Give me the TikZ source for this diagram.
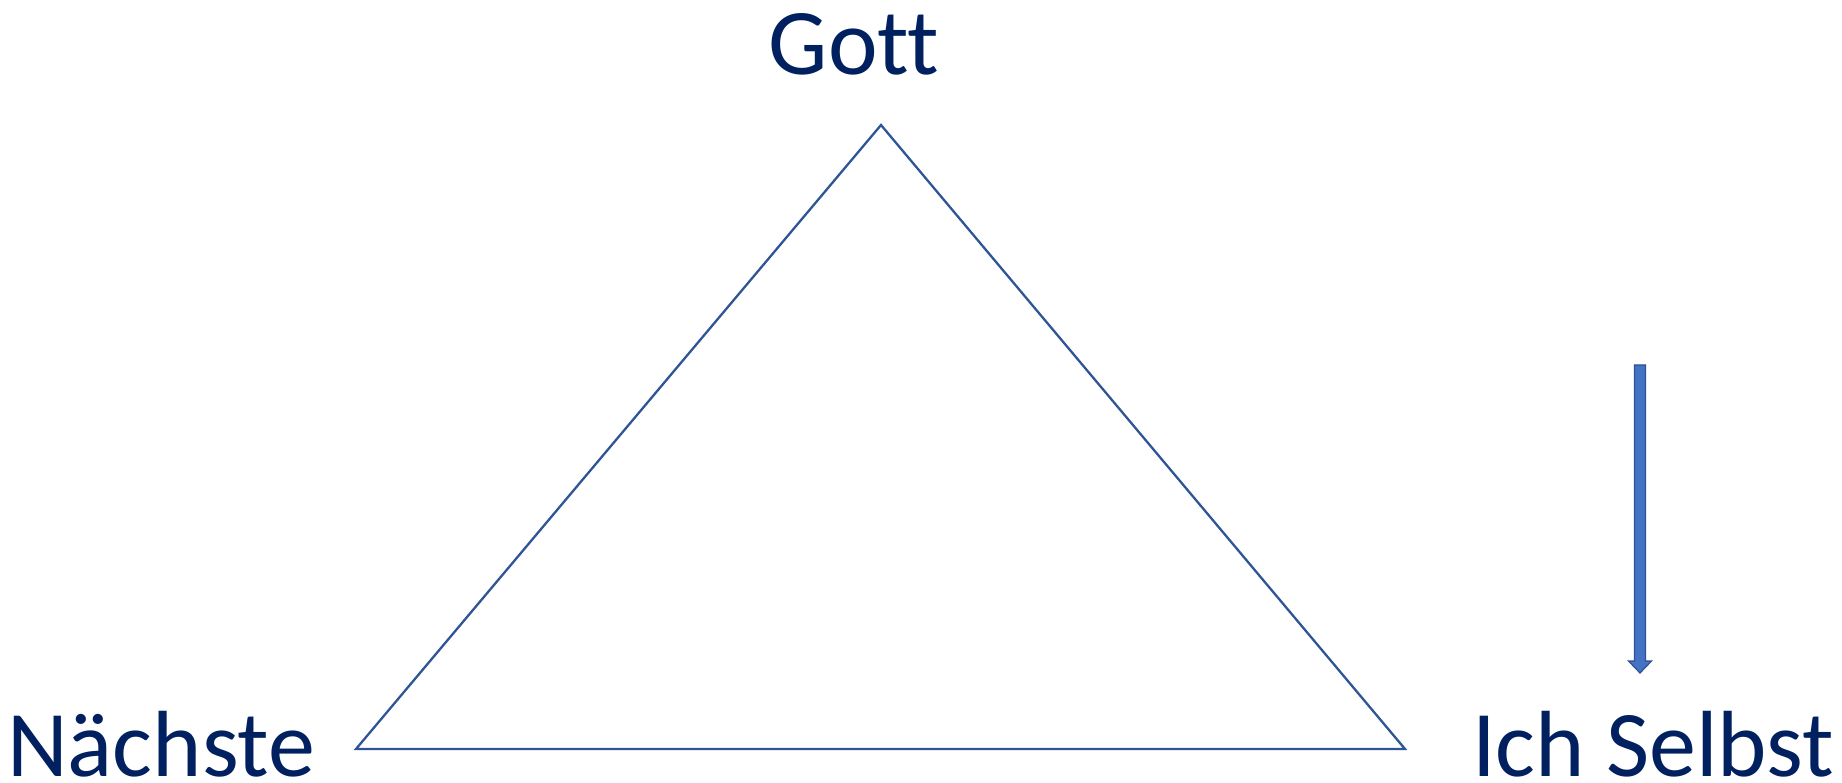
\documentclass[tikz,border=0pt]{standalone}
\usepackage{fontspec}
\setmainfont[Ligatures={NoCommon}]{Carlito}
\definecolor{txtblue}{HTML}{002060}
\definecolor{lineblue}{HTML}{2F5597}
\definecolor{arrfill}{HTML}{4472C4}
\definecolor{arrdraw}{HTML}{2F528F}
\tikzset{
  lbl/.style={inner sep=0pt, text=txtblue, text depth=0pt, font=\fontsize{94}{100}\selectfont},
  tri/.style={draw=lineblue, line width=2.3pt, line join=miter},
  blockarrow/.style={fill=arrfill, draw=arrdraw, line width=1.2pt, line join=miter}
}
\begin{document}
\begin{tikzpicture}[x=1pt,y=-1pt]
\useasboundingbox (0,0) rectangle (1842,783);
\coordinate (top) at (881,125);
\coordinate (bl) at (356,749);
\coordinate (br) at (1405,749);
\node[lbl, anchor=base] (gott) at (854,75) {Gott};
\node[lbl, anchor=base west] (naechste) at (7,776) {Nächste};
\node[lbl, anchor=base east] (ich) at (1834,776) {Ich Selbst};
\draw[tri] (top) -- (bl) -- (br) -- cycle;
% block arrow
\coordinate (atop) at (1640,365);
\coordinate (atip) at (1640,673);
\draw[blockarrow] ([xshift=-5.5]atop) -- ([xshift=5.5]atop) -- ([xshift=5.5,yshift=12]atip) -- ([xshift=11.5,yshift=12]atip) -- (atip) -- ([xshift=-11.5,yshift=12]atip) -- ([xshift=-5.5,yshift=12]atip) -- cycle;
\end{tikzpicture}
\end{document}
